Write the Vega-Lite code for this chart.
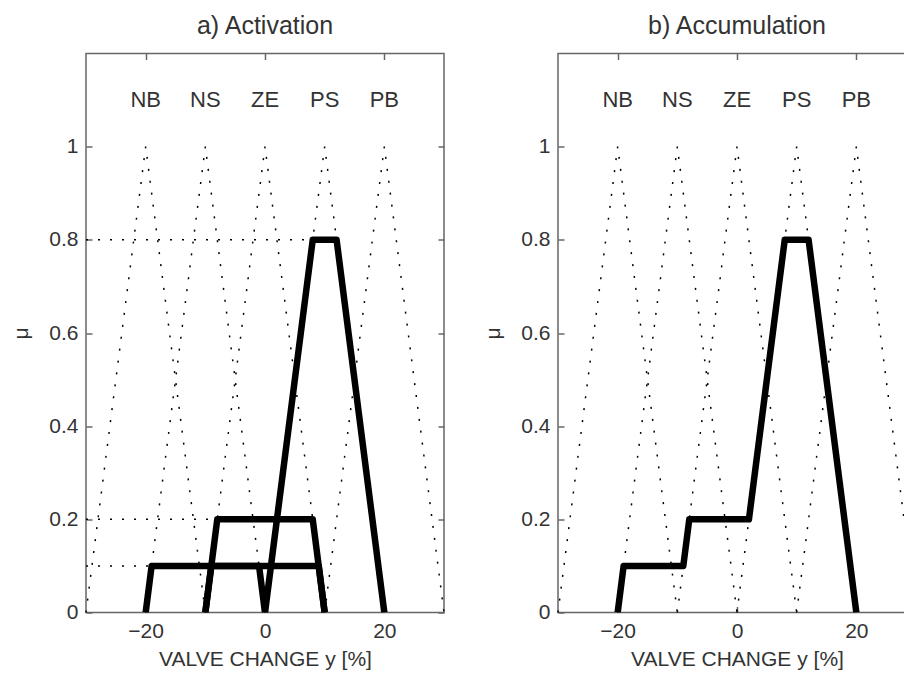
{
  "$schema": "https://vega.github.io/schema/vega-lite/v6.json",
  "padding": {"left": 10, "top": 12.5, "right": 0, "bottom": 0},
  "background": "white",
  "config": {
    "font": "Liberation Sans",
    "view": {"stroke": "#666", "strokeWidth": 1.5},
    "axis": {
      "grid": false, "domain": false,
      "tickColor": "#666", "tickWidth": 1.5, "tickSize": -6,
      "labelFont": "Liberation Sans", "labelFontSize": 21, "labelColor": "#333",
      "titleFont": "Liberation Sans", "titleFontSize": 21, "titleFontWeight": "normal", "titleColor": "#333"
    },
    "title": {"font": "Liberation Sans", "fontSize": 25, "fontWeight": "normal", "color": "#333", "offset": 14}
  },
  "datasets": {
    "tri": [
      {"set": "NB", "x": -30, "mu": 0}, {"set": "NB", "x": -20, "mu": 1}, {"set": "NB", "x": -10, "mu": 0},
      {"set": "NS", "x": -20, "mu": 0}, {"set": "NS", "x": -10, "mu": 1}, {"set": "NS", "x": 0, "mu": 0},
      {"set": "ZE", "x": -10, "mu": 0}, {"set": "ZE", "x": 0, "mu": 1}, {"set": "ZE", "x": 10, "mu": 0},
      {"set": "PS", "x": 0, "mu": 0}, {"set": "PS", "x": 10, "mu": 1}, {"set": "PS", "x": 20, "mu": 0},
      {"set": "PB", "x": 10, "mu": 0}, {"set": "PB", "x": 20, "mu": 1}, {"set": "PB", "x": 30, "mu": 0}
    ],
    "act": [
      {"s": "NS01", "x": -20, "mu": 0}, {"s": "NS01", "x": -19, "mu": 0.1}, {"s": "NS01", "x": -1, "mu": 0.1}, {"s": "NS01", "x": 0, "mu": 0},
      {"s": "ZE01", "x": -10, "mu": 0}, {"s": "ZE01", "x": -9, "mu": 0.1}, {"s": "ZE01", "x": 9, "mu": 0.1}, {"s": "ZE01", "x": 10, "mu": 0},
      {"s": "ZE02", "x": -10, "mu": 0}, {"s": "ZE02", "x": -8, "mu": 0.2}, {"s": "ZE02", "x": 8, "mu": 0.2}, {"s": "ZE02", "x": 10, "mu": 0},
      {"s": "PS08", "x": 0, "mu": 0}, {"s": "PS08", "x": 8, "mu": 0.8}, {"s": "PS08", "x": 12, "mu": 0.8}, {"s": "PS08", "x": 20, "mu": 0}
    ],
    "acc": [
      {"s": "ACC", "x": -20, "mu": 0}, {"s": "ACC", "x": -19, "mu": 0.1}, {"s": "ACC", "x": -9, "mu": 0.1}, {"s": "ACC", "x": -8, "mu": 0.2},
      {"s": "ACC", "x": 2, "mu": 0.2}, {"s": "ACC", "x": 8, "mu": 0.8}, {"s": "ACC", "x": 12, "mu": 0.8}, {"s": "ACC", "x": 20, "mu": 0}
    ],
    "guides": [
      {"g": "g08", "x": -30, "mu": 0.8}, {"g": "g08", "x": 8, "mu": 0.8},
      {"g": "g02", "x": -30, "mu": 0.2}, {"g": "g02", "x": -8, "mu": 0.2},
      {"g": "g01", "x": -30, "mu": 0.1}, {"g": "g01", "x": -19, "mu": 0.1}
    ],
    "labels": [
      {"t": "NB", "x": -20, "mu": 1.1}, {"t": "NS", "x": -10, "mu": 1.1}, {"t": "ZE", "x": 0, "mu": 1.1},
      {"t": "PS", "x": 10, "mu": 1.1}, {"t": "PB", "x": 20, "mu": 1.1}
    ]
  },
  "spacing": 114,
  "bounds": "flush",
  "hconcat": [
    {
      "width": 358, "height": 559,
      "title": "a) Activation",
      "layer": [
        {
          "data": {"name": "tri"},
          "mark": {"type": "line", "stroke": "#000", "strokeWidth": 1.5, "strokeDash": [2, 10]},
          "encoding": {
            "x": {"field": "x", "type": "quantitative", "scale": {"domain": [-30, 30], "nice": false, "zero": false},
                  "axis": {"values": [-20, 0, 20], "title": "VALVE CHANGE y [%]", "labelPadding": 14, "titlePadding": 7}},
            "y": {"field": "mu", "type": "quantitative", "scale": {"domain": [0, 1.2], "nice": false},
                  "axis": {"values": [0, 0.2, 0.4, 0.6, 0.8, 1], "format": "~g", "title": "μ", "labelPadding": 14, "titlePadding": 17}},
            "detail": {"field": "set"}
          }
        },
        {
          "data": {"name": "guides"},
          "mark": {"type": "line", "stroke": "#000", "strokeWidth": 1.5, "strokeDash": [2, 10]},
          "encoding": {
            "x": {"field": "x", "type": "quantitative", "axis": null},
            "y": {"field": "mu", "type": "quantitative", "axis": null},
            "detail": {"field": "g"}
          }
        },
        {
          "data": {"name": "act"},
          "mark": {"type": "line", "stroke": "#000", "strokeWidth": 6.5, "strokeJoin": "round", "clip": true},
          "encoding": {
            "x": {"field": "x", "type": "quantitative", "axis": {"orient": "top", "values": [-20, 0, 20], "labels": false, "title": null}},
            "y": {"field": "mu", "type": "quantitative", "axis": {"orient": "right", "values": [0, 0.2, 0.4, 0.6, 0.8, 1], "labels": false, "title": null}},
            "detail": {"field": "s"}
          }
        },
        {
          "data": {"name": "labels"},
          "mark": {"type": "text", "fontSize": 22, "color": "#333", "font": "Liberation Sans"},
          "encoding": {
            "x": {"field": "x", "type": "quantitative", "axis": null},
            "y": {"field": "mu", "type": "quantitative", "axis": null},
            "text": {"field": "t"}
          }
        }
      ],
      "resolve": {"axis": {"x": "independent", "y": "independent"}}
    },
    {
      "width": 358, "height": 559,
      "title": "b) Accumulation",
      "layer": [
        {
          "data": {"name": "tri"},
          "mark": {"type": "line", "stroke": "#000", "strokeWidth": 1.5, "strokeDash": [2, 10]},
          "encoding": {
            "x": {"field": "x", "type": "quantitative", "scale": {"domain": [-30, 30], "nice": false, "zero": false},
                  "axis": {"values": [-20, 0, 20], "title": "VALVE CHANGE y [%]", "labelPadding": 14, "titlePadding": 7}},
            "y": {"field": "mu", "type": "quantitative", "scale": {"domain": [0, 1.2], "nice": false},
                  "axis": {"values": [0, 0.2, 0.4, 0.6, 0.8, 1], "format": "~g", "title": "μ", "labelPadding": 14, "titlePadding": 17}},
            "detail": {"field": "set"}
          }
        },
        {
          "data": {"name": "acc"},
          "mark": {"type": "line", "stroke": "#000", "strokeWidth": 6.5, "strokeJoin": "round", "clip": true},
          "encoding": {
            "x": {"field": "x", "type": "quantitative", "axis": {"orient": "top", "values": [-20, 0, 20], "labels": false, "title": null}},
            "y": {"field": "mu", "type": "quantitative", "axis": {"orient": "right", "values": [0, 0.2, 0.4, 0.6, 0.8, 1], "labels": false, "title": null}},
            "detail": {"field": "s"}
          }
        },
        {
          "data": {"name": "labels"},
          "mark": {"type": "text", "fontSize": 22, "color": "#333", "font": "Liberation Sans"},
          "encoding": {
            "x": {"field": "x", "type": "quantitative", "axis": null},
            "y": {"field": "mu", "type": "quantitative", "axis": null},
            "text": {"field": "t"}
          }
        }
      ],
      "resolve": {"axis": {"x": "independent", "y": "independent"}}
    }
  ]
}
